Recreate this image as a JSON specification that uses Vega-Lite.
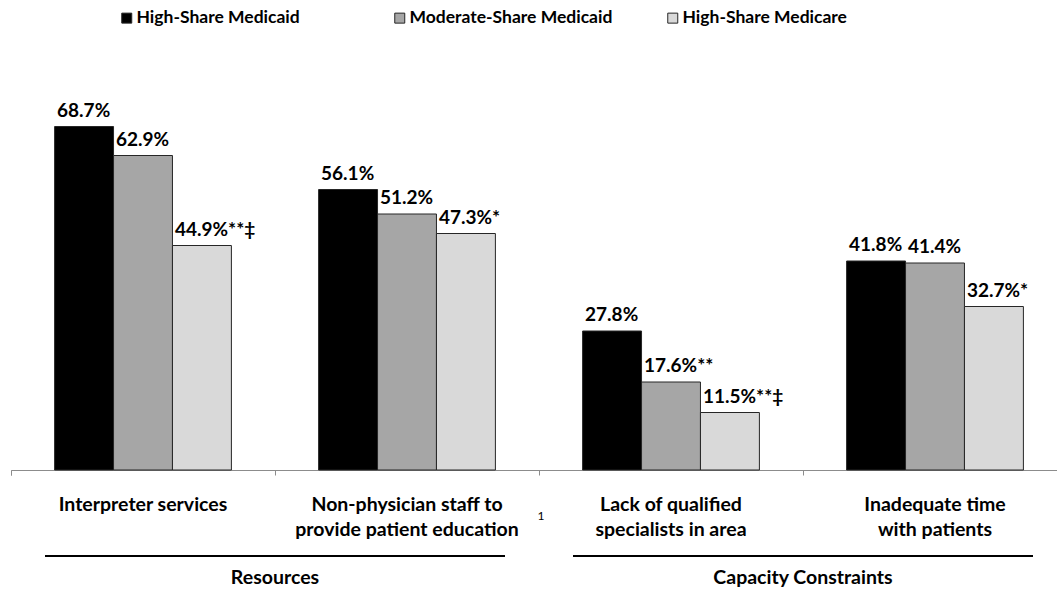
{
  "$schema": "https://vega.github.io/schema/vega-lite/v6.json",
  "width": 1046,
  "height": 400,
  "autosize": {"type": "none"},
  "padding": {"left": 11, "top": 70, "right": 0, "bottom": 121},
  "background": "white",
  "config": {"view": {"stroke": null}, "font": "Lato"},
  "resolve": {"scale": {"x": "independent"}},
  "layer": [
    {
      "layer": [
        {
          "data": {"values": [
            {"category": "Interpreter services", "series": "High-Share Medicaid", "value": 68.7, "label": "68.7%"},
            {"category": "Interpreter services", "series": "Moderate-Share Medicaid", "value": 62.9, "label": "62.9%"},
            {"category": "Interpreter services", "series": "High-Share Medicare", "value": 44.9, "label": "44.9%**‡"},
            {"category": "Non-physician staff to|provide patient education", "series": "High-Share Medicaid", "value": 56.1, "label": "56.1%"},
            {"category": "Non-physician staff to|provide patient education", "series": "Moderate-Share Medicaid", "value": 51.2, "label": "51.2%"},
            {"category": "Non-physician staff to|provide patient education", "series": "High-Share Medicare", "value": 47.3, "label": "47.3%*"},
            {"category": "Lack of qualified|specialists in area", "series": "High-Share Medicaid", "value": 27.8, "label": "27.8%"},
            {"category": "Lack of qualified|specialists in area", "series": "Moderate-Share Medicaid", "value": 17.6, "label": "17.6%**"},
            {"category": "Lack of qualified|specialists in area", "series": "High-Share Medicare", "value": 11.5, "label": "11.5%**‡"},
            {"category": "Inadequate time|with patients", "series": "High-Share Medicaid", "value": 41.8, "label": "41.8%"},
            {"category": "Inadequate time|with patients", "series": "Moderate-Share Medicaid", "value": 41.4, "label": "41.4%"},
            {"category": "Inadequate time|with patients", "series": "High-Share Medicare", "value": 32.7, "label": "32.7%*"}
          ]},
          "encoding": {
            "x": {
              "field": "category", "type": "nominal",
              "scale": {"domain": ["Interpreter services", "Non-physician staff to|provide patient education", "Lack of qualified|specialists in area", "Inadequate time|with patients"], "range": [0, 1056], "paddingInner": 0, "paddingOuter": 0},
              "axis": {
                "title": null, "labelExpr": "split(datum.label, '|')", "labelAngle": 0,
                "labelFont": "Lato", "labelFontWeight": "bold", "labelFontSize": 19.5, "labelColor": "black",
                "labelLineHeight": 25, "labelPadding": 20, "labelBaseline": "top", "labelLimit": 400,
                "labelBound": false, "labelOverlap": false,
                "bandPosition": 0, "tickExtra": true, "tickSize": 5, "tickColor": "#8c8c8c", "domainColor": "#8c8c8c", "domainWidth": 1
              }
            },
            "xOffset": {
              "field": "series", "type": "nominal",
              "scale": {"domain": ["High-Share Medicaid", "Moderate-Share Medicaid", "High-Share Medicare"], "paddingInner": 0, "paddingOuter": 0.74}
            },
            "y": {"field": "value", "type": "quantitative", "scale": {"domain": [0, 80], "nice": false}, "axis": null}
          },
          "layer": [
            {
              "mark": {"type": "bar", "stroke": "#262626", "strokeWidth": 1},
              "encoding": {
                "color": {
                  "field": "series", "type": "nominal",
                  "scale": {"domain": ["High-Share Medicaid", "Moderate-Share Medicaid", "High-Share Medicare"], "range": ["#000000", "#a6a6a6", "#d9d9d9"]},
                  "legend": {
                    "orient": "none", "legendX": 107, "legendY": -61, "direction": "horizontal", "columns": 3,
                    "gridAlign": "all",
                    "title": null, "symbolType": "square", "symbolSize": 100, "symbolStrokeColor": "#262626", "symbolStrokeWidth": 1,
                    "labelFont": "Lato", "labelFontWeight": "bold", "labelFontSize": 17.5, "labelColor": "black", "labelLimit": 400,
                    "columnPadding": 51, "labelOffset": 1
                  }
                }
              }
            },
            {
              "mark": {"type": "text", "align": "left", "dx": -27, "dy": -10, "baseline": "alphabetic", "font": "Lato", "fontWeight": "bold", "fontSize": 19, "color": "black"},
              "encoding": {"text": {"field": "label"}}
            }
          ]
        },
        {
          "data": {"values": [{"note": "1", "category": "Lack of qualified|specialists in area"}]},
          "mark": {"type": "text", "fontSize": 12, "font": "Lato", "dx": 2, "baseline": "middle", "align": "center", "color": "black"},
          "encoding": {
            "x": {"field": "category", "type": "nominal", "bandPosition": 0},
            "y": {"datum": -9.2, "type": "quantitative", "scale": {"domain": [0, 80], "nice": false}, "axis": null},
            "text": {"field": "note"}
          }
        }
      ]
    },
    {
      "data": {"values": [{"group": "Resources"}, {"group": "Capacity Constraints"}]},
      "encoding": {
        "x": {"field": "group", "type": "nominal", "scale": {"domain": ["Resources", "Capacity Constraints"], "range": [0, 1056], "paddingInner": 0, "paddingOuter": 0}, "axis": null}
      },
      "layer": [
        {
          "mark": {"type": "tick", "color": "black", "thickness": 2, "size": 460, "orient": "horizontal", "opacity": 1},
          "encoding": {"y": {"datum": -17.2, "type": "quantitative", "scale": {"domain": [0, 80], "nice": false}, "axis": null}}
        },
        {
          "mark": {"type": "text", "font": "Lato", "fontWeight": "bold", "fontSize": 19.5, "baseline": "middle", "color": "black"},
          "encoding": {
            "y": {"datum": -21.6, "type": "quantitative", "scale": {"domain": [0, 80], "nice": false}, "axis": null},
            "text": {"field": "group"}
          }
        }
      ]
    }
  ]
}
